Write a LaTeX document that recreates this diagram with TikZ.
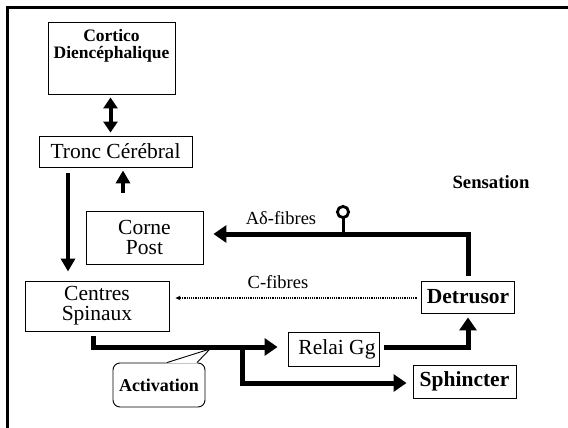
\documentclass[tikz,border=0pt]{standalone}
\usepackage{fontspec}
\setmainfont{Liberation Serif}
\usetikzlibrary{arrows.meta}
\begin{document}
\begin{tikzpicture}[x=1pt,y=-1pt,
  boxnode/.style={draw, line width=0.9pt, inner sep=0pt, align=center, font=\fontsize{21.5}{20}\selectfont},
  boldtext/.style={font=\bfseries\fontsize{21.5}{20}\selectfont},
  labeltext/.style={font=\fontsize{18.5}{18}\selectfont, inner sep=0pt},
  bigarrow/.style={line width=5pt, -{Triangle[length=13pt,width=17pt]}, line join=miter},
  midarrow/.style={line width=4pt, -{Triangle[length=13pt,width=14pt]}},
  dblarrow/.style={line width=4pt, {Triangle[length=11pt,width=14pt]}-{Triangle[length=11pt,width=14pt]}}
]
\useasboundingbox (0,0) rectangle (568,428);
% frame
\coordinate (fbl) at (7,432);
\coordinate (ftl) at (7,7.5);
\coordinate (ftr) at (572,7.5);
\draw[line width=3pt] (fbl) -- (ftl) -- (ftr);

% boxes
\node[boxnode, minimum width=127pt, minimum height=72pt] (cortico) at (111.5,58) {};
\node[font=\bfseries\fontsize{17.5}{17}\selectfont, align=center, inner sep=0pt] (corticotxt) at (111.5,46) {Cortico\\Diencéphalique};
\node[boxnode, minimum width=153pt, minimum height=31pt] (tronc) at (115.5,151.5) {Tronc Cérébral};
\node[boxnode, minimum width=117pt, minimum height=53pt] (corne) at (144.5,237.5) {Corne\\Post};
\node[boxnode, minimum width=144pt, minimum height=50pt] (centres) at (97,306) {Centres\\Spinaux};
\node[boxnode, boldtext, minimum width=93pt, minimum height=32pt] (detrusor) at (468,297) {Detrusor};
\node[boxnode, minimum width=91pt, minimum height=34pt] (relai) at (333.5,349) {\hspace*{7pt}Relai Gg};
\node[boxnode, boldtext, minimum width=103pt, minimum height=33pt] (sphincter) at (464.5,381.5) {Sphincter};
\node[draw, rounded corners=7pt, line width=0.9pt, inner sep=0pt, minimum width=92pt, minimum height=44pt, font=\bfseries\fontsize{18}{18}\selectfont] (activation) at (159,385) {Activation};

% labels
\node[labeltext, font=\bfseries\fontsize{18.7}{18}\selectfont] (sensation) at (491,182.5) {Sensation};
\node[labeltext] (adlabel) at (281,218.5) {Aδ-fibres};
\node[labeltext] (clabel) at (278,282.5) {C-fibres};

% helper coordinates
\coordinate (xA) at (68,0);
\coordinate (xB) at (123,0);
\coordinate (xD) at (110.5,0);
\coordinate (xC) at (93,0);
\coordinate (yAd) at (0,234);
\coordinate (yC) at (0,298);
\coordinate (yR) at (0,347);
\coordinate (yS) at (0,383);
\coordinate (br) at (242,347);

% connectors
\draw[dblarrow, shorten <=3pt, shorten >=3pt] (cortico.south -| xD) -- (tronc.north -| xD);
\draw[midarrow, shorten <=6pt, shorten >=9pt] (tronc.south -| xA) -- (centres.north -| xA);
\draw[midarrow, shorten <=18pt, shorten >=3pt] (corne.north -| xB) -- (tronc.south -| xB);

\draw[bigarrow, shorten <=5pt, shorten >=10pt] (detrusor.north) -- (detrusor.north |- yAd) -- (corne.east |- yAd);
\coordinate (lol) at (343,234);
\coordinate (lolc) at (343,212);
\draw[line width=3pt] (lol) -- ([yshift=16pt]lol);
\draw[line width=2.8pt] (lolc) circle (5.6pt);

\draw[line width=1.2pt, dash pattern=on 1.2pt off 1pt, -{Stealth[length=5pt,width=4.5pt]}, shorten <=4.5pt, shorten >=6pt] (detrusor.west |- yC) -- (centres.east |- yC);

\draw[bigarrow, shorten <=5pt, shorten >=10pt] (centres.south -| xC) -- (xC |- yR) -- (relai.west |- yR);
\draw[bigarrow, shorten >=6pt] (br) -- (br |- yS) -- (sphincter.west |- yS);
\draw[bigarrow, shorten <=5pt, shorten >=4pt] (relai.east |- yR) -- (detrusor.south |- yR) -- (detrusor.south);

% callout pointer
\coordinate (ptip) at (210,349);
\coordinate (pl) at ([xshift=8pt]activation.north);
\coordinate (pr) at ([xshift=38pt]activation.north);
\fill[white] ([yshift=-0.8pt]pl) -- (ptip) -- ([yshift=-0.8pt]pr) -- cycle;
\draw[line width=0.9pt, line join=miter] (pl) -- (ptip) -- (pr);
\end{tikzpicture}
\end{document}
